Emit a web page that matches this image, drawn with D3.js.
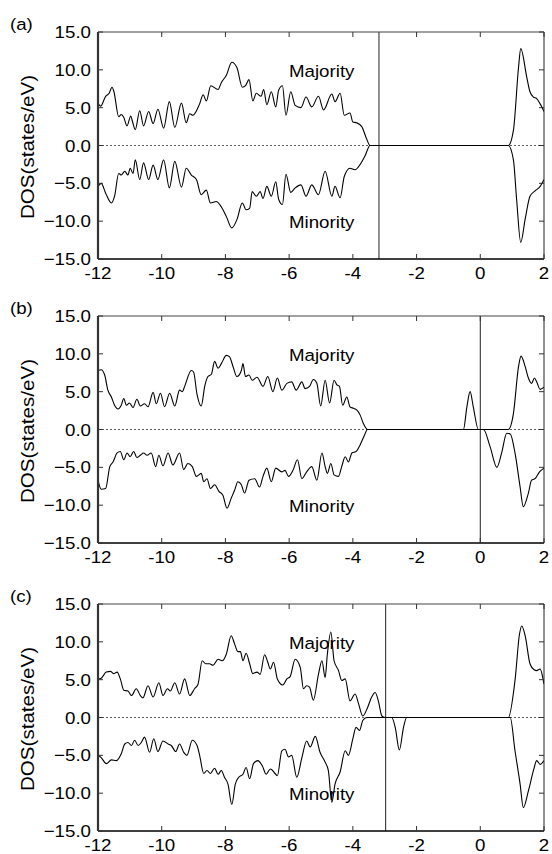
<!DOCTYPE html>
<html><head><meta charset="utf-8">
<script src="https://cdn.jsdelivr.net/npm/d3@7"></script>
<style>
body{margin:0;background:#fff}
svg{display:block}
text{font-family:"Liberation Sans",Arial,Helvetica,sans-serif;fill:#000}
</style>
</head><body>
<script>
// ---------- data (energy eV, DOS states/eV) ----------
const xTicks = [-12,-10,-8,-6,-4,-2,0,2];
const yTicks = [15,10,5,0,-5,-10,-15];
const panelTags = ["(a)","(b)","(c)"];
const fermiLevels = [-3.18, 0, -2.97];

const aMaj = [[-12.00,5.6],[-11.92,5.2],[-11.76,6.5],[-11.65,6.9],[-11.56,7.7],[-11.50,7.1],[-11.35,3.8],[-11.27,4.1],[-11.19,3.7],[-11.09,2.6],[-10.97,3.9],[-10.92,3.2],[-10.83,2.1],[-10.69,4.6],[-10.57,2.6],[-10.41,4.5],[-10.27,2.9],[-10.12,4.8],[-9.94,2.3],[-9.76,5.8],[-9.59,2.4],[-9.38,5.6],[-9.23,3.0],[-9.12,4.2],[-9.02,4.0],[-8.81,5.5],[-8.70,6.7],[-8.60,5.9],[-8.46,7.9],[-8.23,7.4],[-8.13,8.3],[-7.97,9.3],[-7.80,11.0],[-7.64,10.3],[-7.47,7.7],[-7.37,7.9],[-7.26,8.7],[-7.14,5.9],[-7.03,6.9],[-6.88,6.5],[-6.80,7.4],[-6.70,5.4],[-6.56,7.1],[-6.42,5.1],[-6.33,7.3],[-6.21,7.9],[-6.10,4.0],[-5.95,7.1],[-5.81,5.3],[-5.63,5.0],[-5.47,6.4],[-5.29,5.1],[-5.08,6.5],[-4.92,4.7],[-4.66,6.8],[-4.56,5.8],[-4.40,6.9],[-4.27,4.0],[-4.09,4.3],[-4.00,3.1],[-3.88,3.0],[-3.72,2.5],[-3.58,1.0],[-3.46,0],[0.88,0],[1.04,2.0],[1.20,10.3],[1.27,12.8],[1.46,9.0],[1.56,7.1],[1.67,6.4],[1.77,6.2],[1.88,5.5],[2.00,4.5]];
const aMin = [[-12.00,-5.4],[-11.90,-5.0],[-11.76,-6.3],[-11.58,-7.6],[-11.48,-6.7],[-11.35,-3.7],[-11.27,-3.9],[-11.16,-3.4],[-11.06,-3.9],[-10.99,-3.0],[-10.90,-3.7],[-10.83,-1.9],[-10.69,-4.5],[-10.57,-2.3],[-10.41,-4.5],[-10.27,-2.6],[-10.12,-4.5],[-9.94,-1.9],[-9.76,-5.6],[-9.59,-2.1],[-9.38,-5.5],[-9.23,-3.0],[-9.07,-3.9],[-8.91,-4.5],[-8.76,-6.5],[-8.60,-5.9],[-8.47,-7.6],[-8.29,-7.4],[-8.13,-8.1],[-7.97,-9.4],[-7.80,-10.9],[-7.64,-9.8],[-7.47,-7.6],[-7.35,-8.5],[-7.24,-8.3],[-7.16,-6.1],[-7.03,-6.7],[-6.91,-6.1],[-6.82,-7.0],[-6.70,-5.4],[-6.56,-6.7],[-6.42,-4.8],[-6.33,-7.1],[-6.21,-7.8],[-6.10,-3.8],[-5.95,-6.2],[-5.81,-5.6],[-5.63,-5.2],[-5.47,-6.7],[-5.29,-5.2],[-5.08,-6.5],[-4.87,-3.4],[-4.66,-6.7],[-4.56,-5.4],[-4.40,-6.9],[-4.27,-4.1],[-4.09,-3.0],[-3.93,-3.2],[-3.77,-2.5],[-3.62,-1.4],[-3.46,0],[0.88,0],[1.04,-1.9],[1.14,-7.1],[1.27,-12.8],[1.41,-9.7],[1.56,-6.7],[1.72,-6.0],[1.88,-5.4],[2.00,-4.5]];

const bMaj = [[-12.00,7.8],[-11.90,7.9],[-11.79,7.2],[-11.69,5.2],[-11.58,4.3],[-11.48,3.2],[-11.37,2.7],[-11.27,3.2],[-11.19,4.1],[-11.11,3.2],[-11.01,3.5],[-10.90,2.9],[-10.78,4.0],[-10.67,3.1],[-10.54,3.4],[-10.43,3.0],[-10.27,4.9],[-10.17,3.4],[-10.04,4.8],[-9.91,3.0],[-9.75,4.8],[-9.59,3.1],[-9.44,5.2],[-9.35,5.0],[-9.28,5.7],[-9.07,7.8],[-9.00,7.6],[-8.89,4.6],[-8.76,3.1],[-8.65,5.7],[-8.55,7.0],[-8.44,7.3],[-8.34,9.0],[-8.23,8.1],[-8.13,8.7],[-7.97,9.8],[-7.87,9.6],[-7.76,8.3],[-7.64,7.0],[-7.50,7.8],[-7.45,8.7],[-7.37,7.0],[-7.26,7.2],[-7.16,6.5],[-7.01,6.9],[-6.82,5.7],[-6.67,7.0],[-6.51,5.0],[-6.37,6.8],[-6.23,5.2],[-6.07,6.1],[-5.92,6.3],[-5.78,5.2],[-5.60,6.3],[-5.50,5.4],[-5.36,5.7],[-5.24,6.6],[-5.13,6.1],[-5.01,3.1],[-4.87,6.5],[-4.73,3.5],[-4.59,6.5],[-4.50,5.9],[-4.42,5.7],[-4.32,3.2],[-4.19,4.3],[-4.09,3.0],[-3.98,2.8],[-3.88,2.6],[-3.77,1.9],[-3.67,0.8],[-3.54,0],[-0.53,0],[-0.42,3.0],[-0.32,5.0],[-0.22,3.0],[-0.06,0],[0.88,0],[1.04,2.1],[1.20,8.3],[1.28,9.7],[1.41,8.3],[1.51,6.8],[1.61,6.1],[1.70,6.8],[1.77,6.3],[1.88,5.3],[2.00,5.6]];
const bMin = [[-12.00,-6.7],[-11.90,-7.9],[-11.76,-7.8],[-11.63,-4.9],[-11.53,-4.3],[-11.40,-3.1],[-11.30,-2.9],[-11.19,-4.0],[-11.09,-3.1],[-10.99,-3.6],[-10.88,-2.9],[-10.78,-3.7],[-10.67,-3.4],[-10.57,-3.1],[-10.46,-3.4],[-10.33,-3.1],[-10.19,-4.9],[-10.09,-3.4],[-9.96,-4.8],[-9.80,-3.1],[-9.65,-4.7],[-9.44,-3.1],[-9.31,-5.3],[-9.18,-4.5],[-9.04,-4.9],[-8.91,-6.2],[-8.76,-5.8],[-8.68,-6.9],[-8.58,-6.5],[-8.47,-7.8],[-8.34,-7.3],[-8.20,-8.2],[-8.08,-8.7],[-7.95,-10.4],[-7.82,-9.1],[-7.71,-8.0],[-7.61,-6.9],[-7.50,-7.3],[-7.40,-8.4],[-7.26,-6.7],[-7.08,-6.5],[-6.93,-7.6],[-6.82,-6.2],[-6.70,-5.1],[-6.56,-6.9],[-6.42,-5.1],[-6.23,-5.6],[-6.13,-5.4],[-6.02,-6.2],[-5.88,-5.4],[-5.74,-4.0],[-5.60,-6.5],[-5.45,-5.6],[-5.29,-4.9],[-5.13,-6.7],[-4.97,-3.1],[-4.87,-4.9],[-4.80,-5.8],[-4.69,-4.5],[-4.59,-6.0],[-4.45,-6.2],[-4.35,-4.9],[-4.24,-3.6],[-4.14,-4.3],[-4.03,-3.1],[-3.90,-2.9],[-3.77,-2.0],[-3.65,-0.9],[-3.54,0],[0.10,0],[0.31,-2.3],[0.52,-5.0],[0.67,-3.1],[0.83,-0.5],[0.94,-0.6],[1.09,-3.1],[1.25,-7.6],[1.35,-10.2],[1.51,-8.4],[1.61,-6.7],[1.72,-6.5],[1.86,-5.6],[2.00,-5.1]];

const cMaj = [[-12.00,5.1],[-11.90,5.2],[-11.74,6.0],[-11.61,6.1],[-11.51,5.8],[-11.40,6.0],[-11.30,5.1],[-11.19,3.6],[-11.06,3.5],[-10.95,2.9],[-10.80,3.8],[-10.67,2.9],[-10.59,2.6],[-10.43,4.2],[-10.27,2.7],[-10.09,4.6],[-9.96,2.9],[-9.82,3.8],[-9.73,3.5],[-9.59,4.6],[-9.44,3.1],[-9.28,5.1],[-9.12,2.9],[-8.97,3.8],[-8.86,4.4],[-8.73,7.5],[-8.62,7.1],[-8.50,7.1],[-8.39,6.9],[-8.23,7.7],[-8.10,7.5],[-7.97,8.4],[-7.82,10.8],[-7.71,9.7],[-7.61,8.7],[-7.53,8.7],[-7.45,7.5],[-7.35,8.5],[-7.24,7.1],[-7.14,5.8],[-7.01,6.0],[-6.91,5.7],[-6.77,8.3],[-6.67,7.3],[-6.59,6.4],[-6.49,7.3],[-6.37,5.1],[-6.20,4.3],[-6.07,5.1],[-5.97,5.4],[-5.81,7.7],[-5.65,6.6],[-5.55,3.8],[-5.45,4.2],[-5.36,4.0],[-5.24,2.3],[-5.08,5.7],[-4.97,7.5],[-4.87,5.3],[-4.80,8.4],[-4.69,11.3],[-4.59,7.5],[-4.45,6.2],[-4.35,4.9],[-4.24,5.1],[-4.09,2.2],[-3.93,3.1],[-3.82,1.8],[-3.69,0.2],[-3.54,1.3],[-3.41,2.7],[-3.30,3.3],[-3.20,2.2],[-3.09,0.2],[-2.99,0],[0.88,0],[1.09,4.9],[1.23,11.0],[1.30,12.1],[1.41,10.8],[1.56,7.1],[1.69,6.3],[1.77,6.2],[1.88,6.4],[1.96,5.3],[2.00,4.4]];
const cMin = [[-12.00,-5.0],[-11.90,-5.3],[-11.74,-6.1],[-11.58,-5.6],[-11.42,-5.7],[-11.27,-4.8],[-11.16,-3.5],[-11.06,-3.3],[-10.95,-3.7],[-10.85,-3.0],[-10.74,-3.7],[-10.64,-3.3],[-10.54,-2.6],[-10.38,-4.6],[-10.25,-2.8],[-10.12,-4.5],[-9.96,-3.1],[-9.80,-3.5],[-9.70,-3.7],[-9.56,-4.5],[-9.44,-3.5],[-9.31,-4.6],[-9.21,-5.0],[-9.04,-3.0],[-8.89,-3.7],[-8.81,-5.0],[-8.68,-7.4],[-8.58,-7.0],[-8.47,-7.4],[-8.34,-6.7],[-8.23,-7.5],[-8.13,-7.0],[-8.03,-7.9],[-7.92,-8.8],[-7.80,-11.5],[-7.69,-8.8],[-7.58,-7.9],[-7.45,-7.5],[-7.35,-6.6],[-7.24,-8.1],[-7.12,-6.1],[-6.98,-5.7],[-6.84,-6.4],[-6.72,-7.5],[-6.59,-6.8],[-6.42,-7.5],[-6.37,-7.7],[-6.23,-4.4],[-6.13,-4.2],[-6.02,-5.2],[-5.92,-5.0],[-5.76,-7.9],[-5.60,-5.3],[-5.45,-3.1],[-5.34,-3.9],[-5.18,-2.5],[-5.03,-4.6],[-4.87,-5.9],[-4.77,-7.0],[-4.66,-11.2],[-4.56,-8.8],[-4.40,-7.2],[-4.24,-4.4],[-4.14,-5.0],[-4.00,-2.8],[-3.90,-1.3],[-3.79,-1.7],[-3.69,-0.4],[-3.56,0],[-2.78,0],[-2.67,-1.3],[-2.54,-4.3],[-2.41,-1.3],[-2.31,0],[0.94,0],[1.09,-4.4],[1.25,-8.8],[1.35,-11.9],[1.51,-9.7],[1.67,-7.0],[1.77,-5.7],[1.88,-6.2],[2.00,-5.7]];

const majorityLabel = "Majority", minorityLabel = "Minority", yLabel = "DOS(states/eV)";

// ---------- layout ----------
const W = 552, H = 854;
const L = 98, R = 544, PH = 227;
const tops = [32, 316, 604];
const series = [[aMaj, aMin], [bMaj, bMin], [cMaj, cMin]];

const svg = d3.select("body").append("svg").attr("width", W).attr("height", H);
const x = d3.scaleLinear().domain([-12, 2]).range([L, R]);
const fmt = d3.format(".1f");

function txt(g, px, py, s, anchor, fs) {
  return g.append("text")
    .attr("transform", `translate(${px},${py}) scale(1.1,1)`)
    .attr("text-anchor", anchor)
    .style("font-size", (fs || 17) + "px")
    .text(s);
}

tops.forEach((top, i) => {
  const bottom = top + PH;
  const y = d3.scaleLinear().domain([-15, 15]).range([bottom, top]);
  const g = svg.append("g");
  const clipId = "clip" + i;
  g.append("clipPath").attr("id", clipId).append("rect")
    .attr("x", L).attr("y", top).attr("width", R - L).attr("height", PH);

  // zero dotted line
  g.append("line").attr("x1", L).attr("x2", R).attr("y1", y(0)).attr("y2", y(0))
    .attr("stroke", "#333").attr("stroke-width", 0.8).attr("stroke-dasharray", "2,2");

  // vertical fermi line
  g.append("line").attr("x1", x(fermiLevels[i])).attr("x2", x(fermiLevels[i]))
    .attr("y1", top).attr("y2", bottom).attr("stroke", "#222").attr("stroke-width", 1);

  // curves
  const line = d3.line().x(d => x(d[0])).y(d => y(d[1])).curve(d3.curveMonotoneX);
  series[i].forEach(s => {
    g.append("path").attr("d", line(s)).attr("fill", "none")
      .attr("stroke", "#000").attr("stroke-width", 1.1)
      .attr("clip-path", `url(#${clipId})`);
  });

  // frame
  g.append("line").attr("x1", L).attr("x2", R).attr("y1", top).attr("y2", top).attr("stroke", "#444").attr("stroke-width", 1.2);
  g.append("line").attr("x1", R).attr("x2", R).attr("y1", top).attr("y2", bottom).attr("stroke", "#222").attr("stroke-width", 1);
  g.append("line").attr("x1", L).attr("x2", R).attr("y1", bottom).attr("y2", bottom).attr("stroke", "#000").attr("stroke-width", 1.4);
  g.append("line").attr("x1", L).attr("x2", L).attr("y1", top).attr("y2", bottom).attr("stroke", "#333").attr("stroke-width", 2.2);

  // ticks
  xTicks.forEach(v => {
    g.append("line").attr("x1", x(v)).attr("x2", x(v)).attr("y1", top).attr("y2", top + 5).attr("stroke", "#333");
    g.append("line").attr("x1", x(v)).attr("x2", x(v)).attr("y1", bottom).attr("y2", bottom - 5).attr("stroke", "#333");
    txt(g, x(v), bottom + 20, String(v), "middle");
  });
  yTicks.forEach(v => {
    g.append("line").attr("x1", R).attr("x2", R - 5).attr("y1", y(v)).attr("y2", y(v)).attr("stroke", "#333");
    g.append("line").attr("x1", L).attr("x2", L + 5).attr("y1", y(v)).attr("y2", y(v)).attr("stroke", "#333");
    txt(g, 91, y(v) + 6, fmt(v), "end");
  });

  // labels
  txt(g, 10, top - 2.5, panelTags[i], "start");
  txt(g, 289, top + 44.5, majorityLabel, "start");
  txt(g, 289, top + 196, minorityLabel, "start");
  g.append("text")
    .attr("transform", `translate(33.5,${top + 115}) rotate(-90)`)
    .attr("text-anchor", "middle")
    .attr("textLength", 144).attr("lengthAdjust", "spacingAndGlyphs")
    .style("font-size", "17.5px")
    .text(yLabel);
});
</script>
</body></html>
